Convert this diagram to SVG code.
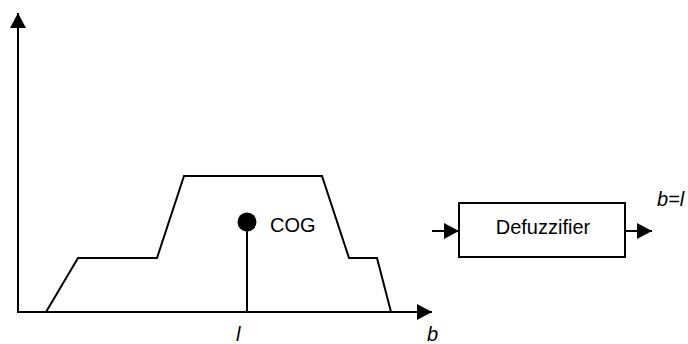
<svg xmlns="http://www.w3.org/2000/svg" width="688" height="344" viewBox="0 0 688 344">
  <style>
    .ln { fill: none; stroke: #000; stroke-width: 2; stroke-linejoin: miter; }
    .txt { font-family: "Liberation Sans", Arial, sans-serif; font-size: 20px; fill: #000; }
    .it { font-style: italic; }
    .box { fill: #fff; stroke: #000; stroke-width: 2; }
  </style>
  <defs>
    <marker id="arr" markerUnits="userSpaceOnUse" markerWidth="16" markerHeight="16" refX="15" refY="8" orient="auto">
      <path d="M0,0 L15,8 L0,16 Z" fill="#000"/>
    </marker>
  </defs>

  <g id="axes">
    <line class="ln" x1="18" y1="313" x2="18" y2="13" marker-end="url(#arr)"/>
    <line class="ln" x1="17" y1="312" x2="432" y2="312" marker-end="url(#arr)"/>
    <text class="txt it" x="236" y="341">l</text>
    <text class="txt it" x="427" y="341">b</text>
  </g>

  <g id="membership">
    <polyline class="ln" points="46,312 78,258 157,258 184,176 322,176 349,258 377,258 391,312"/>
  </g>

  <g id="cog">
    <line class="ln" x1="247" y1="222" x2="247" y2="312"/>
    <circle cx="247" cy="222" r="9.5" fill="#000"/>
    <text class="txt" x="270" y="232">COG</text>
  </g>

  <g id="defuzzifier">
    <rect class="box" x="459" y="203" width="166" height="54"/>
    <text class="txt" x="543" y="234" text-anchor="middle">Defuzzifier</text>
  </g>

  <g id="connectors">
    <line class="ln" x1="432" y1="231" x2="459" y2="231" marker-end="url(#arr)"/>
    <line class="ln" x1="625" y1="231" x2="652" y2="231" marker-end="url(#arr)"/>
  </g>

  <g id="result">
    <text class="txt it" x="657" y="206">b=l</text>
  </g>
</svg>
